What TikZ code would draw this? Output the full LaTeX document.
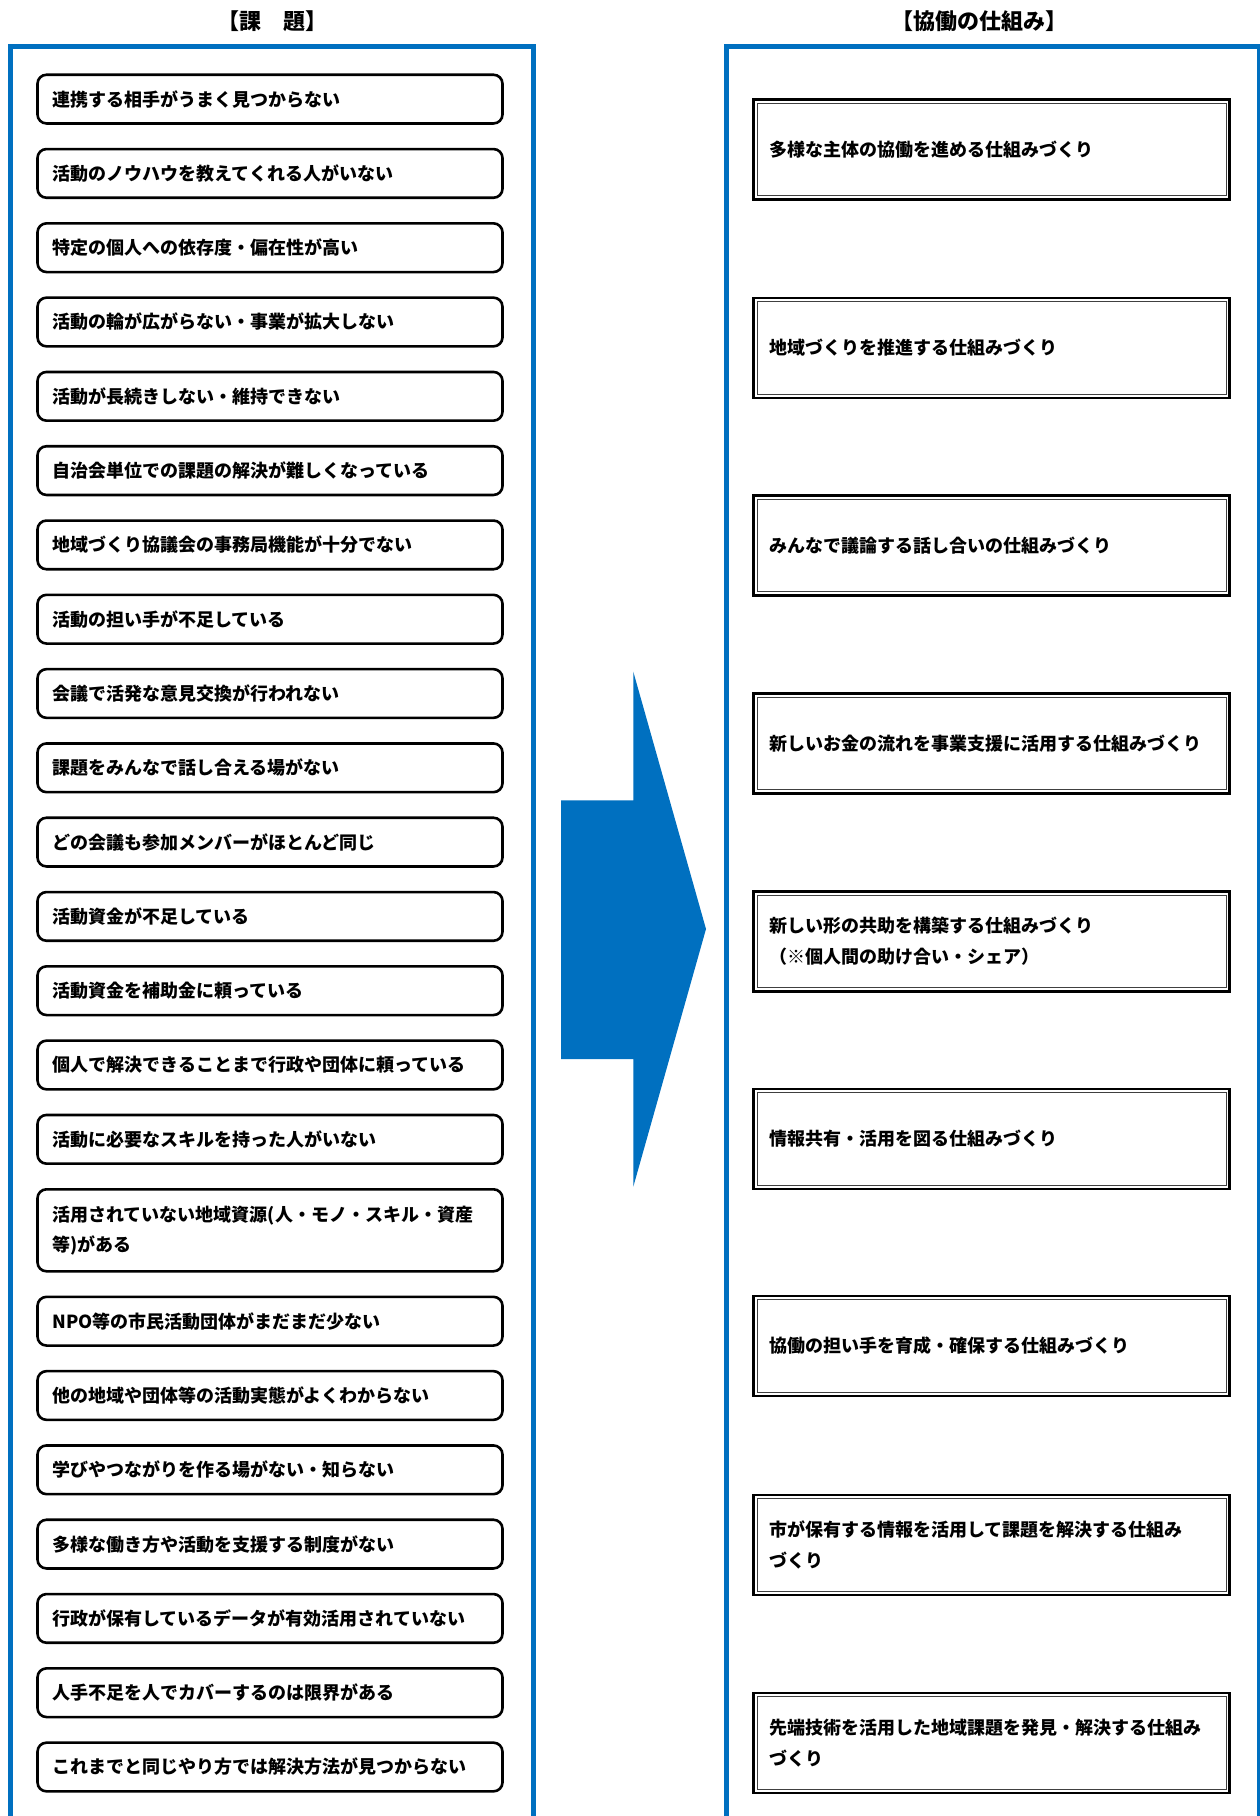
\documentclass[tikz,border=0pt]{standalone}
\usepackage{fontspec}
\setmainfont{Noto Sans CJK JP}
\definecolor{mblue}{RGB}{0,112,192}
\tikzset{
  panel/.style={draw=mblue, line width=5pt},
  issue/.style={draw=black, line width=2.6pt, rounded corners=9pt, outer sep=0pt,
    minimum width=465pt, text width=435pt, inner xsep=15pt, inner ysep=0pt,
    minimum height=48.7pt, align=left,
    font=\fontsize{18}{30}\selectfont\bfseries},
  mech/.style={draw=black, line width=2.5pt, outer sep=0pt,
    minimum width=476pt, text width=445pt, inner xsep=15.5pt, inner ysep=0pt,
    minimum height=100pt, align=left,
    font=\fontsize{18}{31}\selectfont\bfseries},
  mechinner/.style={draw=black!75, line width=1pt},
  head/.style={font=\fontsize{22}{26}\selectfont\bfseries, inner sep=0pt},
  bigarrow/.style={fill=mblue}
}
\begin{document}
\begin{tikzpicture}[x=1pt,y=-1pt]
\useasboundingbox (0,0) rectangle (1260,1816);
\fill[white] (0,0) rectangle (1260,1816);

% headers
\node[head] (h1) at (272,21) {【課　題】};
\node[head] (h2) at (979,21) {【協働の仕組み】};

% panels
\draw[panel] (10,1830) -- (10,46.5) -- (533.5,46.5) -- (533.5,1830);
\draw[panel] (726.5,1830) -- (726.5,46.5) -- (1259.2,46.5) -- (1259.2,1830);

% issues
\node[issue] (i1)  at (270,99.1)   {連携する相手がうまく見つからない};
\node[issue] (i2)  at (270,173.4)  {活動のノウハウを教えてくれる人がいない};
\node[issue] (i3)  at (270,247.7)  {特定の個人への依存度・偏在性が高い};
\node[issue] (i4)  at (270,322.0)  {活動の輪が広がらない・事業が拡大しない};
\node[issue] (i5)  at (270,396.3)  {活動が長続きしない・維持できない};
\node[issue] (i6)  at (270,470.6)  {自治会単位での課題の解決が難しくなっている};
\node[issue] (i7)  at (270,544.9)  {地域づくり協議会の事務局機能が十分でない};
\node[issue] (i8)  at (270,619.2)  {活動の担い手が不足している};
\node[issue] (i9)  at (270,693.5)  {会議で活発な意見交換が行われない};
\node[issue] (i10) at (270,767.8)  {課題をみんなで話し合える場がない};
\node[issue] (i11) at (270,842.1)  {どの会議も参加メンバーがほとんど同じ};
\node[issue] (i12) at (270,916.4)  {活動資金が不足している};
\node[issue] (i13) at (270,990.7)  {活動資金を補助金に頼っている};
\node[issue] (i14) at (270,1065.0) {個人で解決できることまで行政や団体に頼っている};
\node[issue] (i15) at (270,1139.3) {活動に必要なスキルを持った人がいない};
\node[issue, minimum height=82pt] (i16) at (270,1230.3) {活用されていない地域資源(人・モノ・スキル・資産\\等)がある};
\node[issue] (i17) at (270,1321.2) {NPO等の市民活動団体がまだまだ少ない};
\node[issue] (i18) at (270,1395.5) {他の地域や団体等の活動実態がよくわからない};
\node[issue] (i19) at (270,1469.8) {学びやつながりを作る場がない・知らない};
\node[issue] (i20) at (270,1544.1) {多様な働き方や活動を支援する制度がない};
\node[issue] (i21) at (270,1618.4) {行政が保有しているデータが有効活用されていない};
\node[issue] (i22) at (270,1692.7) {人手不足を人でカバーするのは限界がある};
\node[issue] (i23) at (270,1767.0) {これまでと同じやり方では解決方法が見つからない};

% arrow
\fill[bigarrow] (561,800.3) -- (633.3,800.3) -- (633.3,671.7) -- (706,929)
  -- (633.3,1186.7) -- (633.3,1059) -- (561,1059) -- cycle;

% mechanisms
\node[mech] (m1) at (991.6,149.4)  {多様な主体の協働を進める仕組みづくり};
\node[mech] (m2) at (991.6,348.0)  {地域づくりを推進する仕組みづくり};
\node[mech] (m3) at (991.6,545.5)  {みんなで議論する話し合いの仕組みづくり};
\node[mech] (m4) at (991.6,743.5)  {新しいお金の流れを事業支援に活用する仕組みづくり};
\node[mech] (m5) at (991.6,941.5)  {新しい形の共助を構築する仕組みづくり\\（※個人間の助け合い・シェア）};
\node[mech] (m6) at (991.6,1139.0) {情報共有・活用を図る仕組みづくり};
\node[mech] (m7) at (991.6,1346.0) {協働の担い手を育成・確保する仕組みづくり};
\node[mech] (m8) at (991.6,1545.0) {市が保有する情報を活用して課題を解決する仕組み\\づくり};
\node[mech] (m9) at (991.6,1743.0) {先端技術を活用した地域課題を発見・解決する仕組み\\づくり};
\foreach \n in {m1,m2,m3,m4,m5,m6,m7,m8,m9}
  \draw[mechinner] ([shift={(3.6,3.6)}]\n.north west) rectangle ([shift={(-3.6,-3.6)}]\n.south east);
\end{tikzpicture}
\end{document}
